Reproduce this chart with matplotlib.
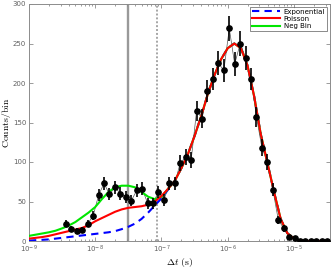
import numpy as np
import matplotlib
matplotlib.use("Agg")
import matplotlib.pyplot as plt
from matplotlib.ticker import LogLocator, NullFormatter

# ---- data: histogram bins (log10 of bin centre, seconds) and counts ----
bin_log10 = [-8.442, -8.360, -8.278, -8.195, -8.113, -8.031, -7.949, -7.867,
             -7.785, -7.702, -7.620, -7.538, -7.456, -7.373, -7.291, -7.209,
             -7.127, -7.045, -6.962, -6.880, -6.798, -6.716, -6.634, -6.551,
             -6.469, -6.387, -6.305, -6.222, -6.140, -6.058, -5.976, -5.894,
             -5.811, -5.729, -5.647, -5.565, -5.483, -5.400, -5.318, -5.236,
             -5.154, -5.072, -4.989, -4.907, -4.825, -4.743, -4.661, -4.578,
             -4.496]
counts = [22, 15, 13, 14, 22, 32, 58, 73, 59, 68, 60, 56, 51, 64, 66, 48,
          48, 62, 52, 73, 73, 99, 106, 103, 165, 155, 190, 205, 225, 216, 269,
          224, 250, 232, 205, 157, 118, 100, 65, 27, 16, 5, 4, 0, 0, 0, 0, 0, 0]

# ---- model curves (log10 t, counts/bin) ----
model_log10 = [-9.0, -8.9, -8.8, -8.7, -8.6, -8.5, -8.4, -8.3, -8.2, -8.1,
               -8.0, -7.9, -7.8, -7.7, -7.6, -7.5, -7.4, -7.3, -7.2, -7.1,
               -7.0, -6.9, -6.8, -6.7, -6.6, -6.5, -6.4, -6.3, -6.2, -6.1,
               -6.0, -5.9, -5.8, -5.7, -5.6, -5.5, -5.4, -5.3, -5.2, -5.1,
               -5.0, -4.9, -4.8, -4.7, -4.6, -4.5, -4.45]
exponential = [0.5, 1, 1.5, 2, 3, 4, 5, 6, 7, 8,
               9, 10, 11, 12.5, 15, 18, 22, 28, 36, 45,
               54, 65, 76, 92, 110, 133, 158, 186, 210, 230,
               244, 250, 244, 222, 183, 135, 99, 62, 28, 10,
               3, 0.5, 0, 0, 0, 0, 0]
poisson = [3, 4, 5, 6.5, 8.5, 10.5, 12.5, 14.5, 16.5, 20,
           25, 29, 33, 37, 40, 42, 43, 44, 46, 50,
           57, 66, 76, 92, 110, 133, 158, 186, 210, 230,
           244, 250, 244, 222, 183, 135, 99, 62, 28, 10,
           3, 0.5, 0, 0, 0, 0, 0]
negbin = [6.5, 8, 9.5, 11, 13, 16, 19.5, 24, 30, 36,
          43, 53, 62, 68, 70, 70, 68, 62, 56, 53,
          56, 66, 76, 92, 110, 133, 158, 186, 210, 230,
          244, 250, 244, 222, 183, 135, 99, 62, 28, 10,
          3, 0.5, 0, 0, 0, 0, 0]

vline_solid = 3.16e-8
vline_dotted = 8.6e-8

x_ticks = [1e-9, 1e-8, 1e-7, 1e-6, 1e-5]
y_ticks = [0, 50, 100, 150, 200, 250, 300]

plt.rcParams['mathtext.fontset'] = 'cm'
plt.rcParams['font.family'] = ['DejaVu Sans']

fig = plt.figure(figsize=(3.32, 2.68), dpi=100)
ax = fig.add_axes([29/332, 27/268, 301/332, 237/268])

tx = 10.0 ** np.array(bin_log10)
cy = np.array(counts, dtype=float)
mx = 10.0 ** np.array(model_log10)

ax.axvline(vline_solid, color='#999999', lw=1.7, zorder=1)
ax.axvline(vline_dotted, color='#a6a6a6', lw=1.4, ls=(0, (1, 1)), zorder=1)

ax.plot(tx, cy, color='#555555', lw=0.5, zorder=2)
ax.errorbar(tx, cy, yerr=np.sqrt(cy), fmt='o', color='black', ms=3.8,
            elinewidth=1.2, capsize=0, zorder=5)

ax.plot(mx, exponential, color='#0000ff', lw=1.5, ls=(0, (3.5, 2.5)),
        label='Exponential', zorder=3)
ax.plot(mx, negbin, color='#00e600', lw=1.5, label='Neg Bin', zorder=3)
ax.plot(mx, poisson, color='#ff0000', lw=1.5, label='Poisson', zorder=4)

ax.set_xscale('log')
ax.set_xlim(1e-9, 10 ** -4.455)
ax.set_ylim(0, 300)
ax.set_xticks(x_ticks)
ax.set_yticks(y_ticks)
ax.xaxis.set_minor_locator(LogLocator(base=10, subs=np.arange(2, 10), numticks=20))
ax.xaxis.set_minor_formatter(NullFormatter())

grey = '#8c8c8c'
for s in ax.spines.values():
    s.set_color(grey)
    s.set_linewidth(0.7)
ax.tick_params(which='both', direction='in', top=True, right=True,
               colors=grey, labelcolor='#606060', labelsize=5, width=0.6, pad=2)
ax.tick_params(which='major', length=3)
ax.tick_params(which='minor', length=1.6)

ax.set_ylabel(r'$\mathrm{Counts/bin}$', fontsize=7)
ax.set_xlabel(r'$\Delta t\ \mathrm{(s)}$', fontsize=7)
ax.yaxis.set_label_coords(-16/301, 0.5)
ax.xaxis.set_label_coords(0.5, -15/237)

h, l = ax.get_legend_handles_labels()
order = [l.index('Exponential'), l.index('Poisson'), l.index('Neg Bin')]
leg = ax.legend([h[i] for i in order], [l[i] for i in order], loc='upper right',
                fontsize=5, handlelength=4, frameon=True, fancybox=False,
                borderpad=0.3, labelspacing=0.15, handletextpad=0.6,
                borderaxespad=0.4)
leg.get_frame().set_edgecolor('#333333')
leg.get_frame().set_linewidth(0.5)

fig.savefig('out.png', dpi=100)
